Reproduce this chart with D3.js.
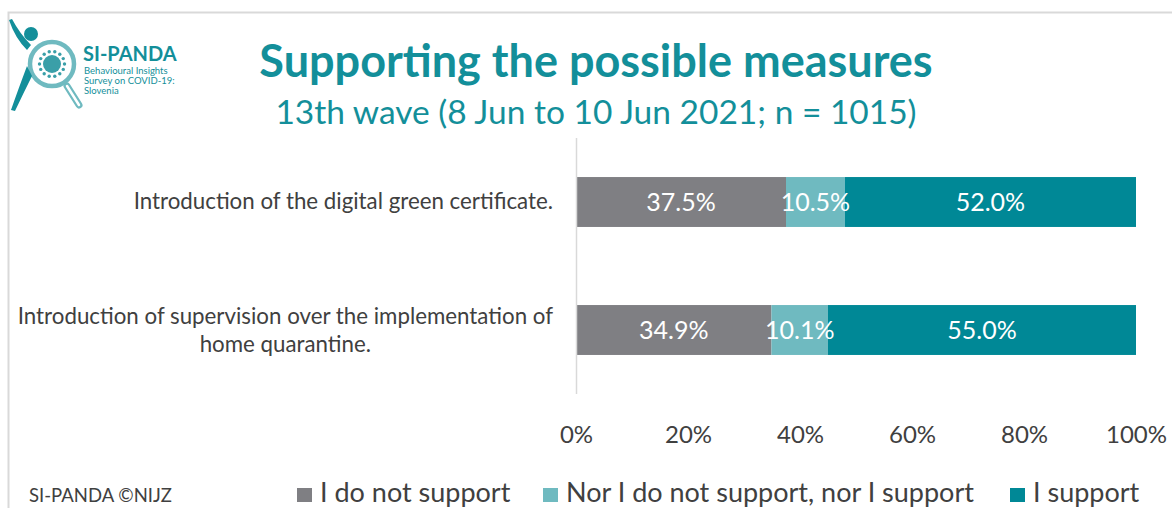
<!DOCTYPE html>
<html>
<head>
<meta charset="utf-8">
<script src="https://cdn.jsdelivr.net/npm/d3@7"></script>
<style>
  html, body { margin: 0; padding: 0; background: #fff; }
  svg { display: block; font-family: Lato, "Open Sans", sans-serif; }
</style>
</head>
<body>
<svg id="chart" width="1172" height="508"></svg>
<script>
// Survey items and response shares (%)
const categories = [
  ["Introduction of the digital green certificate."],
  ["Introduction of supervision over the implementation of", "home quarantine."]
];
const seriesNames = ["I do not support", "Nor I do not support, nor I support", "I support"];
const notSupport = [37.5, 34.9];
const neutral = [10.5, 10.1];
const support = [52.0, 55.0];
const tickValues = [0, 20, 40, 60, 80, 100];
const tickLabels = ["0%", "20%", "40%", "60%", "80%", "100%"];
const colors = ["#7f7f83", "#6fbac0", "#008896"];

const svg = d3.select("#chart");
const teal = "#138f9a";
const textGrey = "#404040";

// Frame
svg.append("path")
  .attr("d", "M8.5,508 V12.5 H1172")
  .attr("fill", "none").attr("stroke", "#d9d9d9").attr("stroke-width", 2);

// Logo: figure holding a magnifying glass over a virus
const logo = svg.append("g");
logo.append("line").attr("x1", 67).attr("y1", 86).attr("x2", 79).attr("y2", 105)
  .attr("stroke", "#6fbac0").attr("stroke-width", 7).attr("stroke-linecap", "round");
logo.append("line").attr("x1", 67).attr("y1", 86).attr("x2", 79).attr("y2", 105)
  .attr("stroke", "#fff").attr("stroke-width", 2.5).attr("stroke-linecap", "round");
logo.append("circle").attr("cx", 52).attr("cy", 64).attr("r", 22)
  .attr("fill", "none").attr("stroke", "#6fbac0").attr("stroke-width", 4.5);
logo.append("circle").attr("cx", 52).attr("cy", 64).attr("r", 9).attr("fill", "#3a9fa8");
d3.range(14).forEach(i => {
  const a = i * 2 * Math.PI / 14;
  logo.append("circle").attr("cx", 52 + 12.5 * Math.cos(a)).attr("cy", 64 + 12.5 * Math.sin(a))
    .attr("r", 1.7).attr("fill", "#3a9fa8");
});
logo.append("circle").attr("cx", 31).attr("cy", 34).attr("r", 7).attr("fill", teal);
logo.append("path").attr("d", "M9,20 Q15,38 27,50 L31,45 Q20,34 12,19 Z").attr("fill", teal);
logo.append("path").attr("d", "M27,66 Q18,90 11,110 L15,111 Q24,92 32,76 Z").attr("fill", teal);
logo.append("text").attr("x", 83).attr("y", 61).attr("font-size", 20).attr("font-weight", 700)
  .attr("fill", teal).text("SI-PANDA");
[["Behavioural Insights", 74], ["Survey on COVID-19:", 84], ["Slovenia", 94]].forEach(([t, y]) => {
  logo.append("text").attr("x", 84).attr("y", y).attr("font-size", 9.5).attr("fill", teal).text(t);
});

// Titles
svg.append("text").attr("x", 596).attr("y", 77).attr("text-anchor", "middle")
  .attr("font-size", 45).attr("font-weight", 700).attr("fill", teal)
  .text("Supporting the possible measures");
svg.append("text").attr("x", 596).attr("y", 124).attr("text-anchor", "middle")
  .attr("font-size", 33.5).attr("fill", teal)
  .text("13th wave (8 Jun to 10 Jun 2021; n = 1015)");

// Scales
const x = d3.scaleLinear().domain([0, 100]).range([576, 1136]);
const y = d3.scaleBand().domain(d3.range(categories.length)).range([138, 394])
  .paddingInner(0.61).paddingOuter(0.305);

const rows = categories.map((c, i) => {
  const vals = [notSupport[i], neutral[i], support[i]];
  let acc = 0;
  return vals.map((v, k) => { const s = { i, k, v, x0: acc, x1: acc + v }; acc += v; return s; });
});

// Bars
const barG = svg.append("g");
barG.selectAll("rect").data(rows.flat()).join("rect")
  .attr("x", d => x(d.x0)).attr("y", d => y(d.i))
  .attr("width", d => x(d.x1) - x(d.x0)).attr("height", y.bandwidth())
  .attr("fill", d => colors[d.k]);
barG.selectAll("text").data(rows.flat()).join("text")
  .attr("x", d => (x(d.x0) + x(d.x1)) / 2).attr("y", d => y(d.i) + y.bandwidth() / 2 + 9)
  .attr("text-anchor", "middle").attr("font-size", 25).attr("fill", "#fff")
  .text(d => d.v.toFixed(1) + "%");

// Vertical axis line
svg.append("line").attr("x1", 576.5).attr("x2", 576.5).attr("y1", 138).attr("y2", 394)
  .attr("stroke", "#d9d9d9").attr("stroke-width", 1.5);

// Category labels (wrapped lines centred on the first line)
categories.forEach((lines, i) => {
  const cy = y(i) + y.bandwidth() / 2;
  if (lines.length === 1) {
    svg.append("text").attr("x", 553).attr("y", cy + 7).attr("text-anchor", "end")
      .attr("font-size", 22.3).attr("fill", textGrey).text(lines[0]);
  } else {
    const first = svg.append("text").attr("x", 553).attr("y", cy - 6).attr("text-anchor", "end")
      .attr("font-size", 22.3).attr("fill", textGrey).text(lines[0]);
    const w = first.node().getComputedTextLength();
    svg.append("text").attr("x", 553 - w / 2).attr("y", cy + 22).attr("text-anchor", "middle")
      .attr("font-size", 22.3).attr("fill", textGrey).text(lines[1]);
  }
});

// X axis tick labels
const axis = d3.axisBottom(x).tickValues(tickValues).tickSize(0)
  .tickFormat((d, i) => tickLabels[i]);
const axG = svg.append("g").attr("transform", "translate(0,423)").call(axis);
axG.select(".domain").remove();
axG.selectAll("text").attr("font-size", 24).attr("fill", textGrey)
  .attr("font-family", "Lato, 'Open Sans', sans-serif");

// Legend
const legendX = [297, 543, 1010];
seriesNames.forEach((n, k) => {
  svg.append("rect").attr("x", legendX[k]).attr("y", 488).attr("width", 15).attr("height", 14)
    .attr("fill", colors[k]);
  svg.append("text").attr("x", legendX[k] + 23).attr("y", 502).attr("font-size", 27)
    .attr("fill", textGrey).text(n);
});

// Footer credit
svg.append("text").attr("x", 29).attr("y", 502).attr("font-size", 18.5)
  .attr("fill", textGrey).text("SI-PANDA ©NIJZ");
</script>
</body>
</html>
